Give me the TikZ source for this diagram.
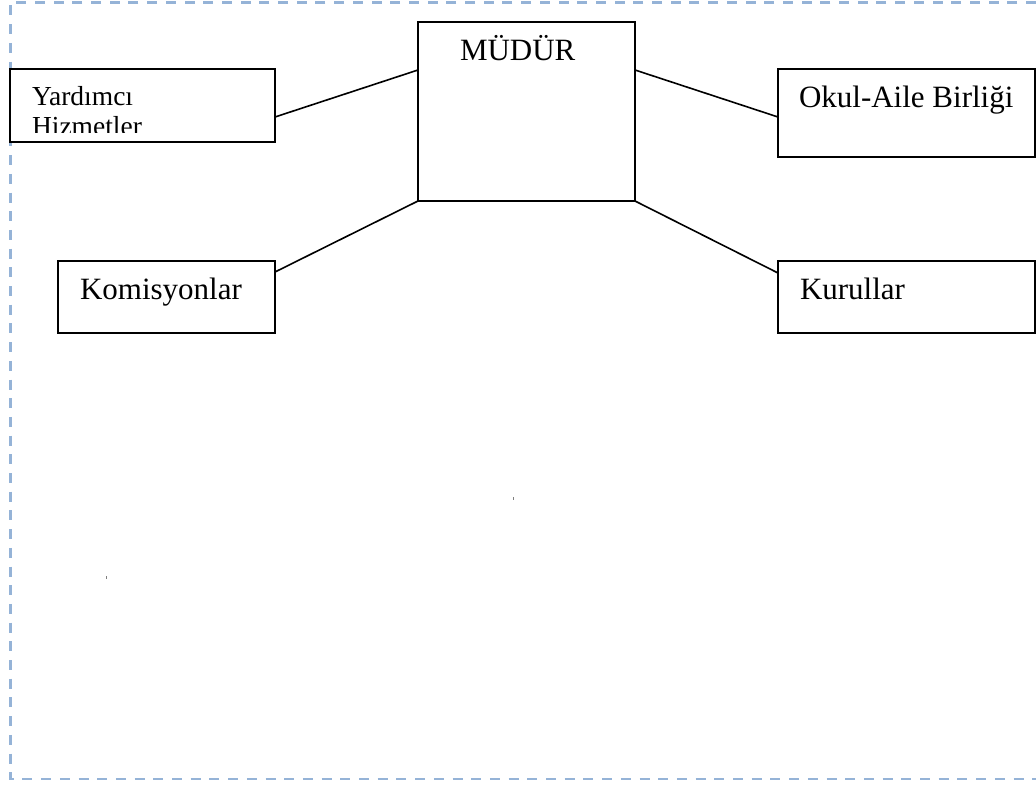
\documentclass[tikz,border=0pt]{standalone}
\usepackage{fontspec}
\setmainfont{Liberation Serif}
\definecolor{frameblue}{RGB}{149,179,215}
\begin{document}
\begin{tikzpicture}[x=1pt,y=-1pt,
  box/.style={draw=black,line width=1.6pt,rectangle,inner sep=0pt,outer sep=0pt,anchor=north west,fill=white},
  lbl/.style={inner sep=0pt,outer sep=0pt,anchor=base west,font=\fontsize{31}{36}\selectfont},
  conn/.style={draw=black,line width=1.6pt},
  frame/.style={draw=frameblue,line width=2.7pt,dash pattern=on 10pt off 8.7pt}]
\useasboundingbox (0,0) rectangle (1036,787);
% dashed frame
\coordinate (fa) at (1036,2.5);
\coordinate (fb) at (10.5,2.5);
\coordinate (fc) at (10.5,779);
\coordinate (fd) at (1036,779);
\draw[frame] (fa) -- (fb) -- (fc) -- (fd);
% boxes
\node[box,minimum width=217,minimum height=179] (mudur) at (418,22) {};
\node[box,minimum width=265,minimum height=73] (yard) at (10,69) {};
\node[box,minimum width=257,minimum height=88] (okul) at (778,69) {};
\node[box,minimum width=217,minimum height=72] (kom) at (58,261) {};
\node[box,minimum width=257,minimum height=72] (kur) at (778,261) {};
% texts
\node[lbl] (tmudur) at (460,60) {MÜDÜR};
\begin{scope}
\clip (yard.north west) rectangle ([yshift=10]yard.south east);
\node[lbl,font=\fontsize{27.5}{30}\selectfont] (tyard1) at (32,105) {Yardımcı};
\node[lbl,font=\fontsize{27.5}{30}\selectfont] (tyard2) at (32,135) {Hizmetler};
\end{scope}
\node[lbl] (tokul) at (799,107) {Okul-Aile Birliği};
\node[lbl] (tkom) at (80,299) {Komisyonlar};
\node[lbl] (tkur) at (800,299) {Kurullar};
% connectors
\draw[conn] ([yshift=-48]yard.north east) -- ([yshift=-48]mudur.north west);
\draw[conn] ([yshift=-48]mudur.north east) -- ([yshift=-48]okul.north west);
\draw[conn] (mudur.south west) -- ([yshift=-11]kom.north east);
\draw[conn] (mudur.south east) -- ([yshift=-12]kur.north west);
% specks
\fill[gray] (512.5,497) rectangle (513.5,499.5);
\fill[gray] (105.5,576) rectangle (106.5,578.5);
\end{tikzpicture}
\end{document}
